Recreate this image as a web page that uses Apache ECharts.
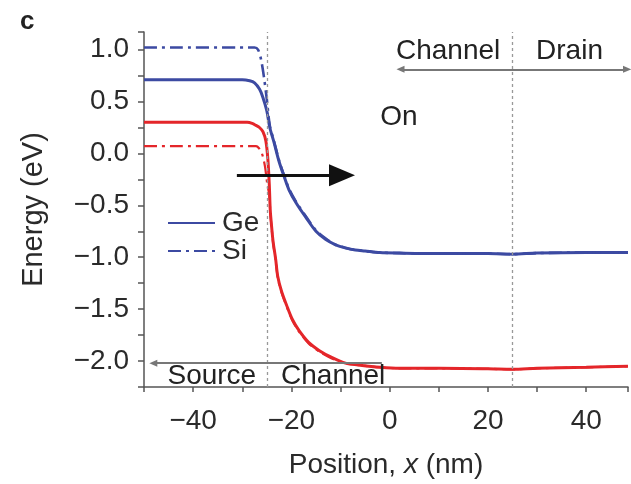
<!DOCTYPE html>
<html>
<head>
<meta charset="utf-8">
<script src="https://cdn.jsdelivr.net/npm/echarts@6/dist/echarts.min.js"></script>
<style>html,body{margin:0;padding:0;background:#fff}#c{width:631px;height:484px}</style>
</head>
<body>
<div id="c"></div>
<script>
// Ge band edge (blue, solid)
const geBlueX = [-50, -30, -28.5, -27.5, -26.5, -25.8, -25, -24.4, -23.5, -22.5, -21.5, -20.5, -19, -17, -15, -13, -11, -9, -7, -5, -2, 2, 10, 20, 25, 30, 40, 48.5];
const geBlueY = [0.71, 0.71, 0.70, 0.68, 0.62, 0.54, 0.41, 0.25, 0.10, -0.08, -0.22, -0.35, -0.48, -0.62, -0.75, -0.83, -0.88, -0.91, -0.93, -0.94, -0.955, -0.96, -0.965, -0.965, -0.97, -0.96, -0.955, -0.955];
// Si band edge (blue, dash-dot)
const siBlueX = [-50, -27.5, -26.8, -26.2, -25.6, -25.0, -24.4, -23.5, -22.5, -21.5, -20.5, -19, -17, -15, -13, -11, -9, -7, -5, -2, 2, 10, 20, 25, 30, 40, 48.5];
const siBlueY = [1.02, 1.02, 1.00, 0.91, 0.74, 0.52, 0.27, 0.11, -0.07, -0.21, -0.34, -0.47, -0.61, -0.74, -0.82, -0.88, -0.91, -0.93, -0.94, -0.955, -0.96, -0.965, -0.965, -0.97, -0.96, -0.955, -0.955];
// Ge band edge (red, solid)
const geRedX = [-50, -29, -28, -27.2, -26.5, -25.8, -25.2, -24.8, -24.5, -24.3, -24.0, -23.7, -23.2, -22.8, -22, -21, -19.8, -18.4, -16.5, -14.3, -12, -9, -6, -2, 2, 10, 20, 25, 30, 40, 48.5];
const geRedY = [0.30, 0.30, 0.29, 0.27, 0.25, 0.21, 0.12, -0.05, -0.30, -0.55, -0.72, -0.86, -1.02, -1.18, -1.33, -1.46, -1.60, -1.71, -1.82, -1.90, -1.96, -2.02, -2.04, -2.06, -2.07, -2.07, -2.075, -2.08, -2.07, -2.06, -2.05];
// Si band edge (red, dash-dot)
const siRedX = [-50, -27.2, -26.6, -26.0, -25.4, -24.9, -24.5, -24.3, -24.0, -23.7, -23.2, -22.8, -22, -21, -19.8, -18.4, -16.5, -14.3, -12, -9, -6, -2, 2, 10, 20, 25, 30, 40, 48.5];
const siRedY = [0.07, 0.07, 0.05, 0.00, -0.12, -0.30, -0.40, -0.57, -0.73, -0.87, -1.03, -1.19, -1.34, -1.47, -1.61, -1.72, -1.83, -1.91, -1.97, -2.02, -2.04, -2.06, -2.07, -2.07, -2.075, -2.08, -2.07, -2.06, -2.05];

// axis ranges / ticks
const xMin = -50, xMax = 48.5, xStep = 10, xLabelStep = 20;
const yMin = -2.25, yMax = 1.17, yStep = 0.25, yLabelStep = 0.5;

// region boundaries and annotation texts (data units)
const boundaries = [-25, 25];
const notes = [
  {name: 'Channel', x: 11.9, y: 0.98},
  {name: 'Drain', x: 36.6, y: 0.98},
  {name: 'On', x: 1.9, y: 0.35},
  {name: 'Source', x: -36.2, y: -2.15},
  {name: 'Channel', x: -11.5, y: -2.15}
];
const fieldArrow = {from: [-31.1, -0.21], to: [-9.7, -0.21]};
const topArrow = {from: [2.2, 0.81], to: [48.3, 0.81]};
const bottomArrow = {from: [-48.1, -2.02], to: [-1.6, -2.02]};

const BLUE = '#3c4aa2', RED = '#e4262a';
const FONT = 'Liberation Sans';
const zip = (xs, ys) => xs.map((x, i) => [x, ys[i]]);
const fmtMinus = s => s.replace('-', '\u2212');

const chart = echarts.init(document.getElementById('c'), null, {renderer: 'canvas'});
chart.setOption({
  animation: false,
  backgroundColor: '#fff',
  title: {text: 'c', left: 15, top: 4, textStyle: {fontFamily: FONT, fontWeight: 'bold', fontSize: 26, color: '#222'}},
  grid: {left: 144, right: 0, top: 32, bottom: 95},
  legend: {
    data: ['Ge', 'Si'], orient: 'vertical', left: 162, top: 204,
    itemWidth: 47, itemHeight: 14, itemGap: 0,
    itemStyle: {opacity: 0},
    textStyle: {fontFamily: FONT, fontSize: 28, color: '#2a2a2a', padding: [0, 0, 0, 2]}
  },
  xAxis: {
    type: 'value', min: xMin, max: xMax, interval: xStep,
    name: 'Position, {i|x} (nm)', nameLocation: 'middle', nameGap: 64,
    nameTextStyle: {fontFamily: FONT, fontSize: 28, color: '#2a2a2a', rich: {i: {fontStyle: 'italic', fontFamily: FONT, fontSize: 28, color: '#2a2a2a'}}},
    axisLine: {onZero: false, lineStyle: {color: '#555', width: 1.5}},
    axisTick: {show: true, length: 5, lineStyle: {color: '#555', width: 1.5}},
    axisLabel: {
      margin: 20, fontFamily: FONT, fontSize: 28, color: '#2a2a2a',
      formatter: v => (Math.abs(v % xLabelStep) < 1e-6 && v > xMin && v < xMax) ? fmtMinus(String(v)) : ''
    },
    splitLine: {show: false}
  },
  yAxis: {
    type: 'value', min: yMin, max: yMax, interval: yStep,
    name: 'Energy (eV)', nameLocation: 'middle', nameGap: 96,
    nameTextStyle: {fontFamily: FONT, fontSize: 29, color: '#2a2a2a'},
    axisLine: {show: true, onZero: false, lineStyle: {color: '#555', width: 1.5}},
    axisTick: {show: true, length: 6, lineStyle: {color: '#555', width: 1.5}},
    axisLabel: {
      margin: 15, fontFamily: FONT, fontSize: 28, color: '#2a2a2a',
      formatter: v => {
        const r = v / yLabelStep;
        return Math.abs(r - Math.round(r)) < 1e-6 ? fmtMinus(v.toFixed(1)) : '';
      }
    },
    splitLine: {show: false}
  },
  series: [
    {name: 'Ge', type: 'line', data: zip(geBlueX, geBlueY), symbol: 'none', smooth: 0.3, color: BLUE, lineStyle: {color: BLUE, width: 3}, z: 3},
    {name: 'Si', type: 'line', data: zip(siBlueX, siBlueY), symbol: 'none', smooth: 0.3, color: BLUE, lineStyle: {color: BLUE, width: 2.6, type: [13, 5, 3, 5]}, z: 4},
    {name: 'Ge', type: 'line', data: zip(geRedX, geRedY), symbol: 'none', smooth: 0.3, color: RED, lineStyle: {color: RED, width: 3}, z: 3},
    {name: 'Si', type: 'line', data: zip(siRedX, siRedY), symbol: 'none', smooth: 0.3, color: RED, lineStyle: {color: RED, width: 2.2, type: [13, 5, 3, 5]}, z: 4},
    {
      name: 'notes', type: 'scatter', symbolSize: 0, silent: true, z: 6,
      itemStyle: {opacity: 1},
      data: notes.map(n => ({name: n.name, value: [n.x, n.y]})),
      label: {show: true, position: [0, 0], align: 'center', verticalAlign: 'middle', formatter: p => p.name, fontFamily: FONT, fontSize: 28, color: '#222', opacity: 1, textBorderWidth: 0},
      markLine: {
        silent: true, animation: false, label: {show: false},
        data: [
          ...boundaries.map(b => [{coord: [b, yMin], symbol: 'none'}, {coord: [b, yMax], symbol: 'none', lineStyle: {color: '#999', width: 1.3, type: [3, 3]}}]),
          [{coord: fieldArrow.from, symbol: 'none'}, {coord: fieldArrow.to, symbol: 'triangle', symbolSize: [22, 26], lineStyle: {color: '#111', width: 3, type: 'solid'}, itemStyle: {color: '#111'}}],
          [{coord: topArrow.from, symbol: 'triangle', symbolSize: [7, 8]}, {coord: topArrow.to, symbol: 'triangle', symbolSize: [7, 8], lineStyle: {color: '#777', width: 2, type: 'solid'}, itemStyle: {color: '#666'}}],
          [{coord: bottomArrow.from, symbol: 'triangle', symbolSize: [7, 8]}, {coord: bottomArrow.to, symbol: 'none', lineStyle: {color: '#777', width: 2, type: 'solid'}, itemStyle: {color: '#666'}}]
        ]
      }
    }
  ]
});
</script>
</body>
</html>
